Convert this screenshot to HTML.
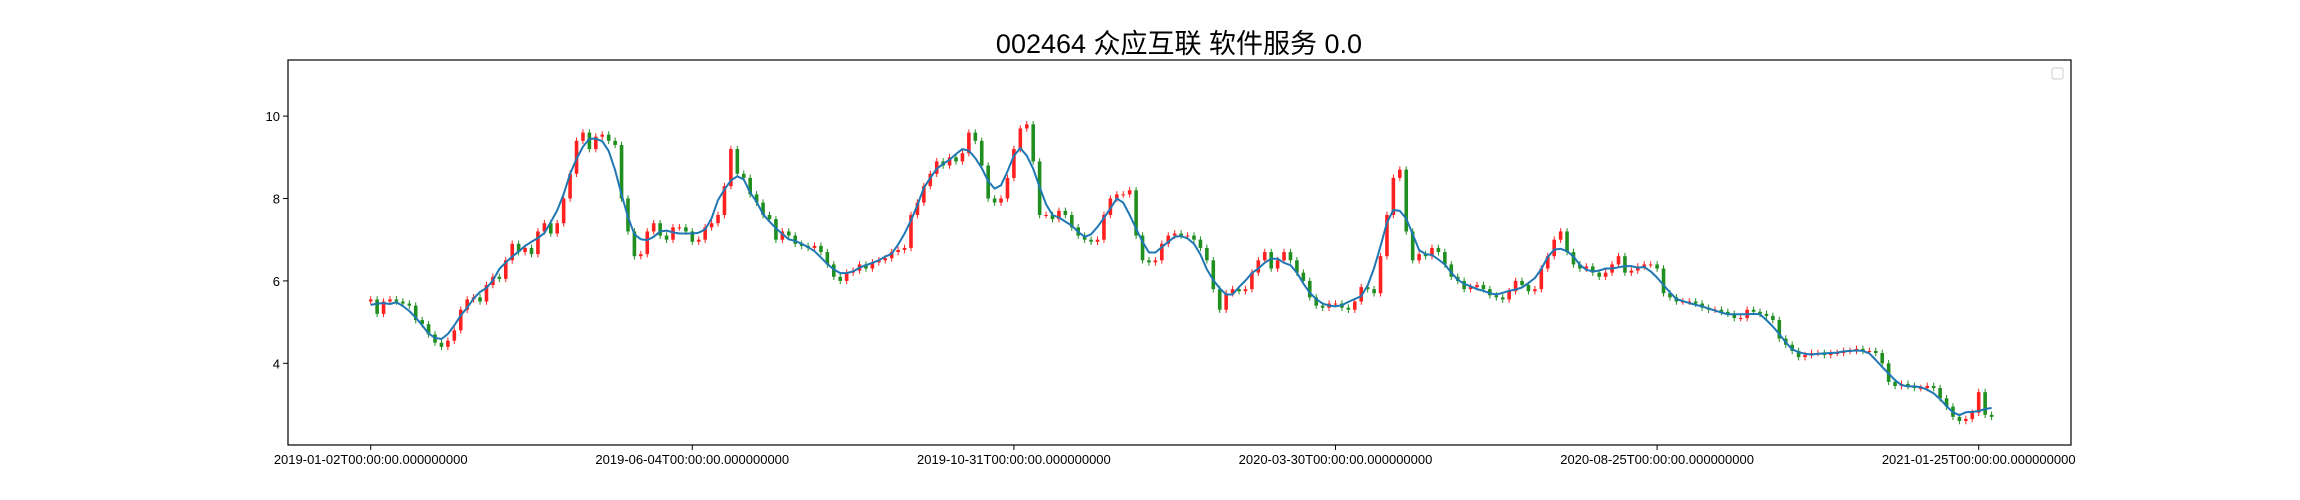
<!DOCTYPE html>
<html><head><meta charset="utf-8"><style>
html,body{margin:0;padding:0;background:#fff;}
svg{display:block;font-family:"Liberation Sans","Noto Sans CJK SC",sans-serif;}
</style></head><body>
<svg id="chart" width="2300" height="500" viewBox="0 0 2300 500" xmlns="http://www.w3.org/2000/svg">
<rect width="2300" height="500" fill="#fff"/>
<text x="1179" y="53" text-anchor="middle" font-size="27" fill="#000">002464 众应互联 软件服务 0.0</text>
<g id="yaxis"></g>
<g id="xaxis"></g>
<g id="candles"></g>
<g id="maline"></g>
<rect x="288" y="60" width="1783" height="385" fill="none" stroke="#000" stroke-width="1.2"/>
<rect x="2052" y="68" width="11" height="11" rx="2" fill="#fff" stroke="#ccc" stroke-width="1"/>
</svg>
<script>
const step = 2;
const closes = [5.55,5.2,5.5,5.55,5.5,5.45,5.4,5.05,4.95,4.7,4.5,4.4,4.55,4.8,5.3,5.55,5.6,5.5,5.9,6.1,6.05,6.5,6.9,6.7,6.8,6.65,7.2,7.4,7.15,7.4,8.0,8.6,9.4,9.6,9.2,9.5,9.55,9.4,9.3,8.0,7.2,6.6,6.65,7.2,7.4,7.1,7.0,7.3,7.3,7.2,6.95,7.0,7.3,7.4,7.6,8.3,9.2,8.6,8.5,8.1,7.9,7.6,7.5,7.0,7.2,7.1,6.9,6.85,6.8,6.85,6.7,6.4,6.1,6.0,6.2,6.25,6.4,6.3,6.45,6.5,6.55,6.7,6.75,6.8,7.6,7.9,8.3,8.6,8.9,8.8,9.0,8.9,9.1,9.6,9.4,8.8,8.0,7.9,8.0,8.5,9.2,9.7,9.8,8.9,7.6,7.6,7.5,7.7,7.6,7.3,7.1,7.0,6.95,7.0,7.6,8.0,8.1,8.1,8.2,7.1,6.5,6.45,6.5,6.9,7.1,7.15,7.1,7.1,7.0,6.8,6.5,5.8,5.3,5.7,5.8,5.75,5.8,6.2,6.5,6.7,6.3,6.5,6.7,6.5,6.2,6.0,5.6,5.4,5.35,5.45,5.45,5.35,5.3,5.5,5.85,5.8,5.7,6.6,7.6,8.5,8.7,7.2,6.5,6.65,6.6,6.8,6.7,6.4,6.1,6.0,5.8,5.85,5.9,5.8,5.65,5.6,5.55,5.75,6.0,5.9,5.75,5.8,6.3,6.6,7.0,7.2,6.7,6.4,6.3,6.35,6.2,6.1,6.2,6.4,6.6,6.2,6.25,6.35,6.4,6.4,6.3,5.7,5.6,5.5,5.5,5.5,5.45,5.35,5.3,5.3,5.25,5.2,5.1,5.1,5.3,5.25,5.2,5.15,5.05,4.6,4.45,4.3,4.15,4.2,4.25,4.25,4.2,4.25,4.25,4.3,4.3,4.35,4.3,4.3,4.25,4.0,3.55,3.45,3.5,3.45,3.4,3.4,3.45,3.4,3.15,2.95,2.7,2.6,2.65,2.8,3.3,2.75,2.7];
const firstOpen = 5.5;
const yTicks = [4, 6, 8, 10];
const xTickIdx = [0, 100, 200, 300, 400, 500];
const xTickLabels = ["2019-01-02T00:00:00.000000000","2019-06-04T00:00:00.000000000","2019-10-31T00:00:00.000000000","2020-03-30T00:00:00.000000000","2020-08-25T00:00:00.000000000","2021-01-25T00:00:00.000000000"];

const NS = "http://www.w3.org/2000/svg";
const X = i => 370.7 + i * 3.216;
const Y = v => 363.3 - (v - 4) * 41.2;
function mk(tag, attrs, parent){const e=document.createElementNS(NS,tag);for(const k in attrs)e.setAttribute(k,attrs[k]);parent.appendChild(e);return e;}

const ya = document.getElementById('yaxis');
yTicks.forEach(v=>{
  const t = mk('line',{x1:283,x2:288,y1:Y(v),y2:Y(v),stroke:'#000','stroke-width':1},ya);
  
  
  const l = mk('text',{x:280,y:Y(v)+5,'text-anchor':'end','font-size':13,fill:'#000'},ya);
  l.textContent = v;
  
  
});
const xa = document.getElementById('xaxis');
xTickIdx.forEach((i,k)=>{
  const t = mk('line',{x1:X(i),x2:X(i),y1:445,y2:450,stroke:'#000','stroke-width':1},xa);
  
  
  const l = mk('text',{x:X(i),y:464,'text-anchor':'middle','font-size':13,fill:'#000'},xa);
  l.textContent = xTickLabels[k];
  
  
});

const cg = document.getElementById('candles');
const bw = 3.6;
closes.forEach((c,k)=>{
  const o = k===0 ? firstOpen : closes[k-1];
  const up = c >= o;
  const col = up ? '#ff2020' : '#1f8f1f';
  const x = X(k*step);
  const hi = Math.max(o,c)+0.08, lo = Math.min(o,c)-0.08;
  const w = mk('line',{x1:x,x2:x,y1:Y(hi),y2:Y(lo),stroke:col,'stroke-width':1},cg);
  
  
  const top = Y(Math.max(o,c)), h = Math.max(1, Math.abs(Y(o)-Y(c)));
  const b = mk('rect',{x:x-bw/2,y:top,width:bw,height:h,fill:col},cg);
  
  
});

const mg = document.getElementById('maline');
const half = 2;
let pts = [];
for(let k=0;k<closes.length;k++){
  let s=0,n=0;
  for(let j=k-half;j<=k+half;j++){ if(j>=0&&j<closes.length){s+=closes[j];n++;} }
  pts.push(X(k*step).toFixed(1)+','+Y(s/n).toFixed(1));
}
const pl = mk('polyline',{points:pts.join(' '),fill:'none',stroke:'#1f77b4','stroke-width':2,'stroke-linejoin':'round'},mg);


</script>
</body></html>
